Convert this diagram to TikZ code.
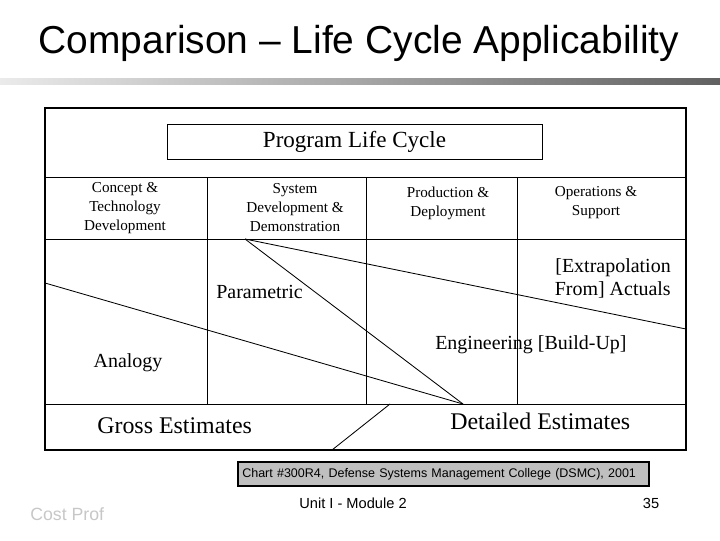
\documentclass[tikz,border=0pt]{standalone}
\usepackage{fontspec}
\setmainfont{Liberation Serif}
\newfontfamily\arialfont[Ligatures=TeX]{Liberation Sans}
\usetikzlibrary{positioning}

\begin{document}
\begin{tikzpicture}[
    x=0.025cm, y=-0.025cm,
    frame/.style={line width=0.9pt},
    rule/.style={line width=0.6pt},
    phase/.style={align=center, inner sep=0pt, font=\fontsize{10.8}{13.5}\selectfont},
    method/.style={inner sep=0pt, font=\fontsize{14.2}{16.4}\selectfont},
    estimate/.style={inner sep=0pt, font=\fontsize{17}{20}\selectfont},
    footer/.style={inner sep=0pt, font=\arialfont\fontsize{10.4}{12}\selectfont}
]
    \useasboundingbox (0,0) rectangle (720,540);

    % Titel und Balken
    \node[inner sep=0pt, anchor=base, font=\arialfont\fontsize{27.7}{30}\selectfont] (title) at (359,53) {Comparison – Life Cycle Applicability};
    \shade[left color=black!8, right color=black!62] (0,78) rectangle (720,84);

    % Rahmen
    \draw[frame] (45,108) rectangle (686,450);
    \node[draw, rule, minimum width=375*0.025cm, minimum height=35*0.025cm, inner sep=0pt,
          font=\fontsize{16.4}{18}\selectfont] (plc) at (354.5,141.5) {Program Life Cycle};

    % Phasenzeile
    \draw[rule] (45,177) -- (686,177);
    \draw[rule] (45,239) -- (686,239);
    \draw[rule] (45,404) -- (686,404);
    \draw[rule] (207,177) -- (207,404);
    \draw[rule] (366,177) -- (366,404);
    \draw[rule] (517,177) -- (517,404);
    \draw[line width=1.6pt] (686,177) -- (686,239);

    \node[phase] (concept) at (125,208) {Concept \&\\Technology\\Development};
    \node[phase] (sdd) at (295,208) {System\\Development \&\\Demonstration};
    \node[phase] (prod) at (448,203) {Production \&\\Deployment};
    \node[phase] (ops) at (596,203) {Operations \&\\Support};

    % Schaetzmethoden
    \coordinate (apex) at (245,239);
    \coordinate (meet) at (463,404);
    \coordinate (anaL) at (45,283);
    \coordinate (actR) at (686,329);
    \coordinate (cutT) at (390,404);
    \coordinate (cutB) at (332,450);
    \draw[rule] (anaL) -- (meet);
    \draw[rule] (apex) -- (meet);
    \draw[rule] (apex) -- (actR);
    \draw[rule] (cutT) -- (cutB);

    \node[method, anchor=west] (param) at (216,292) {Parametric};
    \node[method] (analogy) at (128,363) {Analogy};
    \node[method, anchor=east, align=right] (actuals) at (671,278) {[Extrapolation\\From] Actuals};
    \node[method, anchor=west] (eng) at (435,345) {Engineering [Build-Up]};

    \node[estimate, anchor=west] (gross) at (97,426) {Gross Estimates};
    \node[estimate, anchor=west] (detail) at (450,421) {Detailed Estimates};

    % Quelle und Fusszeile
    \node[draw, line width=1.5pt, fill=black!25, minimum height=24*0.025cm,
          inner sep=3pt, anchor=north west, align=left, text width=10.05cm,
          font=\arialfont\fontsize{8.9}{10}\selectfont] (source) at (237,461)
          {Chart \#300R4, Defense Systems Management College (DSMC), 2001};
    \node[footer] (unit) at (353,503) {Unit I - Module 2};
    \node[footer] (page) at (651,503) {35};
    \node[footer, anchor=west, text=black!22, font=\arialfont\fontsize{12.6}{14}\selectfont] (brand) at (30,514) {Cost Prof};
\end{tikzpicture}
\end{document}
